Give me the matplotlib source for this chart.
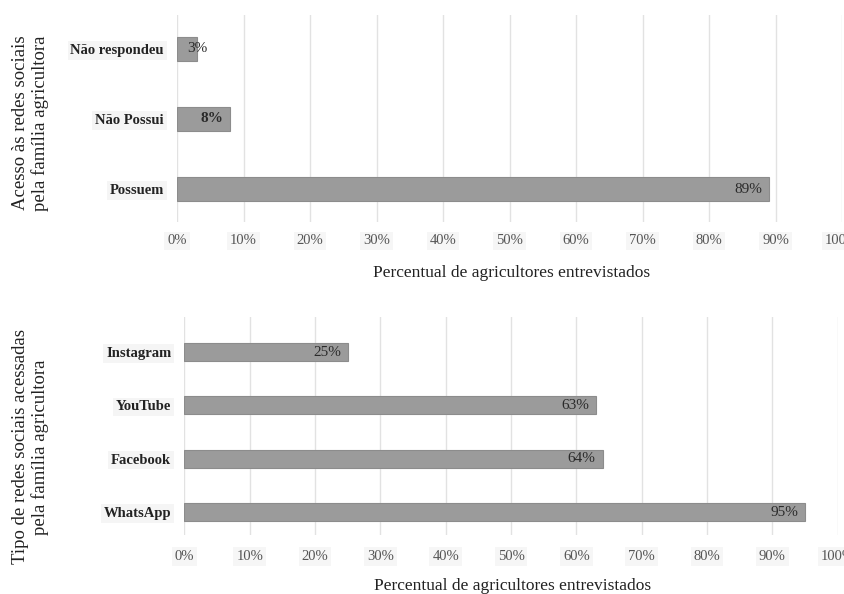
import matplotlib
matplotlib.use("Agg")
import matplotlib.pyplot as plt
from matplotlib.ticker import PercentFormatter

plt.rcParams['font.family'] = ['Liberation Serif', 'DejaVu Serif']

# top panel: access to social networks
access_labels = ['Possuem', 'Não Possui', 'Não respondeu']
access_values = [0.89, 0.08, 0.03]

# bottom panel: which networks are used
network_labels = ['WhatsApp', 'Facebook', 'YouTube', 'Instagram']
network_values = [0.95, 0.64, 0.63, 0.25]

x_ticks = [0, 0.1, 0.2, 0.3, 0.4, 0.5, 0.6, 0.7, 0.8, 0.9, 1.0]
xlabel = 'Percentual de agricultores entrevistados'
top_ylabel = 'Acesso às redes sociais\npela família agricultora'
bottom_ylabel = 'Tipo de redes sociais acessadas\npela família agricultora'

bar_color = '#9b9b9b'
edge_color = '#8c8c8c'
grid_color = '#e2e2e2'

fig = plt.figure(figsize=(8.45, 5.94), dpi=100)
ax1 = fig.add_axes([0.2095, 0.6263, 0.787, 0.3485])
ax2 = fig.add_axes([0.2183, 0.0993, 0.773, 0.367])


def draw_panel(ax, labels, values, ylim, bar_h, tick_pad, label_y):
    pos = list(range(len(labels)))
    bars = ax.barh(pos, values, height=bar_h, color=bar_color,
                   edgecolor=edge_color, linewidth=0.8, zorder=2)
    ax.set_xlim(0, 1.0)
    ax.set_ylim(*ylim)
    ax.set_xticks(x_ticks)
    ax.xaxis.set_major_formatter(PercentFormatter(1.0, decimals=0))
    ax.set_yticks(pos)
    ax.set_yticklabels(labels, fontsize=10.5, fontweight='bold', color='#222222')
    for lab in ax.get_yticklabels():
        lab.set_bbox(dict(facecolor='#f5f5f5', edgecolor='none', pad=2))
    for lab in ax.get_xticklabels():
        lab.set_bbox(dict(facecolor='#f6f6f6', edgecolor='none', pad=2))
    ax.tick_params(axis='x', length=0, pad=tick_pad, labelsize=10.5,
                   labelcolor='#555555')
    ax.tick_params(axis='y', length=0, pad=9.5)
    for s in ax.spines.values():
        s.set_visible(False)
    ax.grid(axis='x', color=grid_color, linewidth=1.0, zorder=0)
    ax.set_axisbelow(True)
    ax.set_xlabel(xlabel, fontsize=12.5, color='#222222')
    ax.xaxis.set_label_coords(0.503, label_y)
    for b, v in zip(bars, values):
        if v < 0.05:
            ha, off = 'center', 0
        else:
            ha, off = 'right', -5
        ax.annotate(f'{v * 100:.0f}%', (b.get_width(), b.get_y() + b.get_height() / 2),
                    xytext=(off, 0), textcoords='offset points', ha=ha, va='center',
                    fontsize=11, color='#2a2a2a',
                    fontweight='bold' if 0.05 < v < 0.1 else 'normal', zorder=3)


draw_panel(ax1, access_labels, access_values, (-0.471, 2.486), 0.34, 9, -0.21)
draw_panel(ax2, network_labels, network_values, (-0.431, 3.656), 0.34, 11, -0.195)

fig.text(0.036, 0.793, top_ylabel, rotation=90, ha='center', va='center',
         fontsize=13.5, color='#222222', multialignment='center', linespacing=1.1)
fig.text(0.036, 0.2475, bottom_ylabel, rotation=90, ha='center', va='center',
         fontsize=13.5, color='#222222', multialignment='center', linespacing=1.1)

fig.savefig('out.png', dpi=100)
